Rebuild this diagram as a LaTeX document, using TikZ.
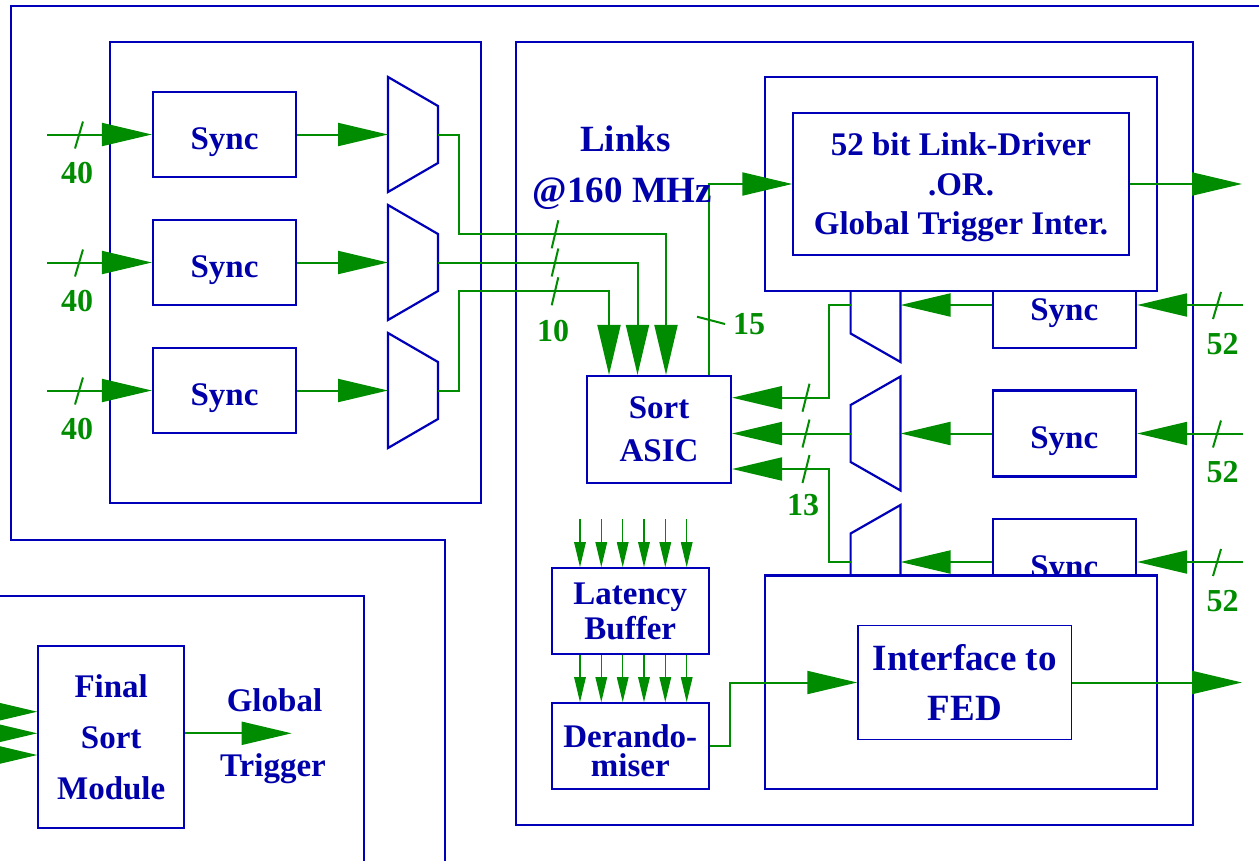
\documentclass[tikz,border=0pt]{standalone}
\usepackage{fontspec}
\setmainfont{Liberation Serif}
\usetikzlibrary{arrows.meta}
\definecolor{lineblue}{RGB}{0,0,185}
\definecolor{inkblue}{RGB}{0,0,170}
\definecolor{siggreen}{RGB}{0,140,0}
\newcommand\bsz[2]{\bfseries\fontsize{#1}{#2}\selectfont}
\newcommand\lift[1]{\rule{0pt}{#1}}
\tikzset{
  frame/.style={draw=lineblue, line width=1.3pt},
  module/.style={draw=lineblue, line width=2.6pt, inner sep=0pt},
  blk/.style={draw=lineblue, line width=2.2pt, fill=white, text=inkblue,
    align=center, inner sep=0pt, font=\bsz{33}{39}},
  thinblk/.style={blk, line width=1.4pt},
  syncbox/.style={blk, minimum width=143.4pt, minimum height=86pt,
    text height=30pt, text depth=0pt},
  mux/.style={draw=lineblue, line width=2.2pt, fill=white, line join=miter},
  wire/.style={draw=siggreen, line width=2pt},
  arr/.style={wire, -{Triangle[length=50pt,width=23pt]}},
  tarr/.style={draw=siggreen, line width=1.4pt, -{Triangle[length=25pt,width=11.5pt]}},
  slash/.style={draw=siggreen, line width=2pt},
  num/.style={text=siggreen, font=\bsz{32}{38}, anchor=base, inner sep=0pt},
  lbl/.style={text=inkblue, font=\bsz{33}{39}, anchor=base, inner sep=0pt}
}
\begin{document}
\begin{tikzpicture}[x=1pt,y=-1pt]
\useasboundingbox (0,0) rectangle (1259,860);

% surrounding crate outlines
\draw[frame] (1275,6) -- (11,6) -- (11,540) -- (445,540) -- (445,875);
\draw[frame] (-15,596) -- (364,596) -- (364,875);

% the two boards
\node[module, minimum width=371pt, minimum height=461pt] (lmod) at (295.5,272.5) {};
\node[module, minimum width=677pt, minimum height=783pt] (rmod) at (854.5,433.5) {};

% input synchronisers and multiplexers, left board
\foreach \i/\y in {1/134.5,2/262.5,3/390.5} {
  \node[syncbox, minimum width=143pt, minimum height=85pt] (ls\i) at (224.5,\y) {Sync};
  \draw[mux] (388,\y-57.5) -- (438,\y-28.5) -- (438,\y+28.5) -- (388,\y+57.5) -- cycle;
  \coordinate (lmi\i) at (388,\y);
  \coordinate (lmo\i) at (438,\y);
  \coordinate (lin\i) at (47,\y);
}

% sorter, latency buffer and derandomiser
\node[blk, minimum width=144pt, minimum height=107pt, font=\bsz{33}{43}] (sa) at (659,429.5) {Sort\\ASIC};
\node[blk, minimum width=157.3pt, minimum height=86pt, font=\bsz{33}{35.7}] (lb) at (630.3,611.3) {Latency\\Buffer};
\node[blk, minimum width=157.3pt, minimum height=86pt, font=\bsz{33}{29}] (dr) at (630.3,746.3) {\lift{31pt}Derando-\\miser};

% input synchronisers and multiplexers, right board
\foreach \i/\y in {1/305,2/433.5,3/562} {
  \node[syncbox] (rs\i) at (1064.3,\y) {Sync};
  \draw[mux] (900.5,\y-57) -- (850.6,\y-28.5) -- (850.6,\y+28.5) -- (900.5,\y+57) -- cycle;
  \coordinate (rmi\i) at (900.5,\y);
  \coordinate (rmo\i) at (850.6,\y);
  \coordinate (rin\i) at (1242.5,\y);
}

% link driver and FED interface
\node[blk, line width=2.6pt, minimum width=392pt, minimum height=214pt] (ldo) at (961,184) {};
\node[thinblk, minimum width=336pt, minimum height=142pt, font=\bsz{33}{39.5}] (ld) at (961,184)
  {\lift{29.8pt}52 bit Link-Driver\\.OR.\\Global Trigger Inter.};
\node[blk, line width=2.6pt, minimum width=392pt, minimum height=213.3pt] (ifo) at (961,682.3) {};
\node[thinblk, minimum width=213.7pt, minimum height=113.6pt, font=\bsz{37}{50}] (if) at (964.8,682.5)
  {Interface to\\FED};

% final sort module
\node[blk, minimum width=145.7pt, minimum height=181.7pt, font=\bsz{33}{51}] (fsm) at (111.2,736.8)
  {Final\\Sort\\Module};

% left board signal paths
\foreach \i in {1,2,3} {
  \draw[arr] (lin\i) -- (ls\i.west);
  \draw[arr] (ls\i.east) -- (lmi\i);
}
\foreach \y in {134.5,262.5,390.5} {
  \draw[slash] (75,\y+14) -- (83,\y-13);
  \node[num] at (77,\y+49) {40};
}
\coordinate (b1) at (666,234.3);
\coordinate (b2) at (637.5,262.5);
\coordinate (b3) at (609,291.3);
\draw[arr] (lmo1) -- (459,134.5) |- (b1) -- (b1 |- sa.north);
\draw[arr] (lmo2) -- (b2) -- (b2 |- sa.north);
\draw[arr] (lmo3) -- (459,390.5) |- (b3) -- (b3 |- sa.north);
\foreach \y in {234.3,262.5,291.3} {
  \draw[slash] (551.7,\y+14) -- (558.3,\y-14);
}
\node[num] (n10) at (553,341.4) {10};

% sorter output to the link driver
\coordinate (up) at (709,184);
\draw[arr] (sa.north -| up) -- (up) -- (ld.west);
\draw[slash] (697,316.7) -- (725,324);
\node[num] (n15) at (749,334.6) {15};
\coordinate (o1) at (1242,184);
\draw[arr] (ld.east) -- (o1);

% right board signal paths
\foreach \i in {1,2,3} {
  \draw[arr] (rin\i) -- (rs\i.east);
  \draw[arr] (rs\i.west) -- (rmi\i);
}
\foreach \y in {305,433.5,562} {
  \draw[slash] (1213,\y+14) -- (1221,\y-13);
  \node[num] at (1222.5,\y+49) {52};
}
\coordinate (c1) at (829.3,397.7);
\coordinate (c3) at (829.3,469);
\draw[arr] (rmo1) -- (rmo1 -| c1) -- (c1) -- (c1 -| sa.east);
\draw[arr] (rmo2) -- (rmo2 -| sa.east);
\draw[arr] (rmo3) -- (rmo3 -| c3) -- (c3) -- (c3 -| sa.east);
\foreach \y in {397.7,433.5,469} {
  \draw[slash] (802.5,\y+14) -- (809.5,\y-14);
}
\node[num] (n13) at (803,515.6) {13};

% readout chain
\foreach \x in {580,601.3,622.7,644,665.3,686.7} {
  \coordinate (lt) at (\x,519.3);
  \draw[tarr] (lt) -- (lt |- lb.north);
  \draw[tarr] (lb.south -| lt) -- (lt |- dr.north);
}
\coordinate (dj) at (730,746.3);
\draw[arr] (dr.east) -- (dj) |- (if.west);
\coordinate (o2) at (1242,682.5);
\draw[arr] (if.east) -- (o2);

% final sort module paths
\foreach \i/\y in {a/711.7,b/733.3,c/755} {
  \coordinate (fin\i) at (-40,\y);
  \draw[arr] (fin\i) -- (fin\i -| fsm.west);
}
\coordinate (gt) at (291.7,733.3);
\draw[arr] (gt -| fsm.east) -- (gt);

% free labels
\node[lbl, font=\bsz{37}{44}] (links) at (625.3,151.7) {Links};
\node[lbl, font=\bsz{37}{44}] (mhz) at (622.5,202) {@160 MHz};
\node[lbl] (glob) at (274.5,711.7) {Global};
\node[lbl] (trig) at (273,776.7) {Trigger};
\end{tikzpicture}
\end{document}
